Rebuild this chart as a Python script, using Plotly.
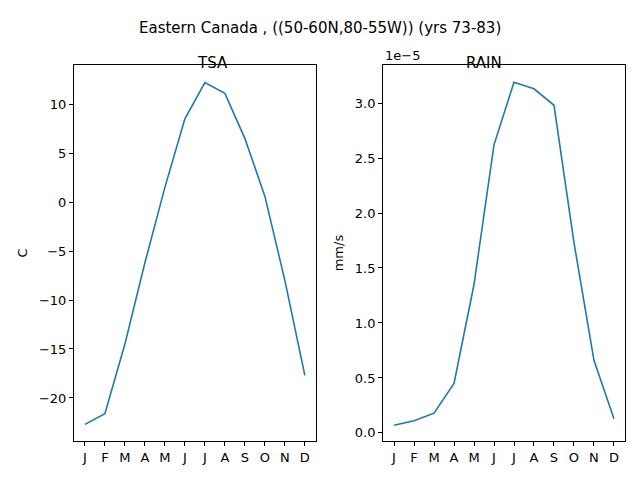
import plotly.graph_objects as go

months = ["J", "F", "M", "A", "M", "J", "J", "A", "S", "O", "N", "D"]
tsa = [-22.7, -21.6, -14.5, -6.2, 1.5, 8.5, 12.2, 11.1, 6.5, 0.6, -8.0, -17.7]
rain = [0.07, 0.11, 0.18, 0.45, 1.35, 2.62, 3.19, 3.13, 2.98, 1.73, 0.66, 0.13]  # x 1e-5

x = list(range(len(months)))
blue = "#1f77b4"
font = dict(family="DejaVu Sans", size=13, color="black")

fig = go.Figure()
fig.add_trace(go.Scatter(x=x, y=tsa, mode="lines", line=dict(color=blue, width=1.6), xaxis="x", yaxis="y"))
fig.add_trace(go.Scatter(x=x, y=rain, mode="lines", line=dict(color=blue, width=1.6), xaxis="x2", yaxis="y2"))

axstyle = dict(showgrid=False, zeroline=False, showline=True, linecolor="black", linewidth=1,
               mirror=True, ticks="outside", ticklen=4, tickcolor="black", tickfont=font)

# page body adds an 8px offset, so positions are shifted accordingly
fig.update_layout(
    width=640, height=480, showlegend=False,
    plot_bgcolor="white", paper_bgcolor="white", font=font,
    margin=dict(l=0, r=0, t=0, b=0),
    xaxis=dict(domain=[0.103, 0.481], range=[-0.55, 11.55], tickvals=x, ticktext=months, anchor="y", **axstyle),
    yaxis=dict(domain=[0.098, 0.881], range=[-24.39, 13.98], tickvals=[-20, -15, -10, -5, 0, 5, 10],
               title=dict(text="C", font=font, standoff=8), anchor="x", **axstyle),
    xaxis2=dict(domain=[0.586, 0.964], range=[-0.55, 11.55], tickvals=x, ticktext=months, anchor="y2", **axstyle),
    yaxis2=dict(domain=[0.098, 0.881], range=[-0.073, 3.345], tickvals=[0, 0.5, 1, 1.5, 2, 2.5, 3],
                tickformat=".1f", title=dict(text="mm/s", font=font, standoff=8), anchor="x2", **axstyle),
    annotations=[
        dict(text="Eastern Canada , ((50-60N,80-55W)) (yrs 73-83)", x=0.4875, y=1 - 9 / 480, xref="paper",
             yref="paper", showarrow=False, font=dict(family="DejaVu Sans", size=15)),
        dict(text="TSA", x=0.292, y=1 - 44 / 480, xref="paper", yref="paper", showarrow=False,
             font=dict(family="DejaVu Sans", size=15)),
        dict(text="RAIN", x=0.775, y=1 - 44 / 480, xref="paper", yref="paper", showarrow=False,
             font=dict(family="DejaVu Sans", size=15)),
        dict(text="1e\u22125", x=0.586, y=0.881, xref="paper", yref="paper", xanchor="left",
             yanchor="bottom", showarrow=False, font=font),
    ],
)

fig.write_html("out.html")
